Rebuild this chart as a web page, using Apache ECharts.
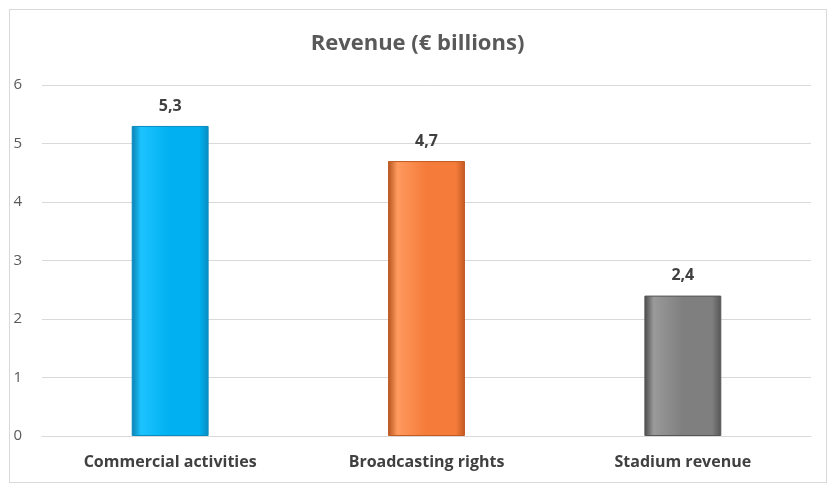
<!DOCTYPE html>
<html><head><meta charset="utf-8">
<script src="https://cdn.jsdelivr.net/npm/echarts@6/dist/echarts.min.js"></script>
<style>
html,body{margin:0;padding:0;background:#fff;}
#box{position:absolute;left:9px;top:9px;width:816px;height:472px;border:1px solid #d9d9d9;}
#chart{width:835px;height:490px;}
</style></head>
<body>
<div id="box"></div>
<div id="chart"></div>
<script>
// valeurs
const categories = ['Commercial activities', 'Broadcasting rights', 'Stadium revenue'];
const values = [5.3, 4.7, 2.4];
const barColors = [
    ['#0a7fae', '#1cc3ff', '#00b0f0', '#0a8cc0'],
    ['#b3531e', '#ff9a5e', '#f47b3a', '#c25a22'],
    ['#4a4a4a', '#9a9a9a', '#7f7f7f', '#555555']
];

function bevel(c) {
    return {
        type: 'linear', x: 0, y: 0, x2: 1, y2: 0,
        colorStops: [
            { offset: 0, color: c[0] },
            { offset: 0.12, color: c[1] },
            { offset: 0.5, color: c[2] },
            { offset: 0.88, color: c[2] },
            { offset: 1, color: c[3] }
        ]
    };
}

const chart = echarts.init(document.getElementById('chart'));
const option = {
    animation: false,
    title: {
        text: 'Revenue (€ billions)',
        left: 'center',
        top: 28,
        textStyle: { fontFamily: 'Open Sans', fontSize: 22, fontWeight: 'bold', color: '#595959' }
    },
    grid: { left: 42, right: 24, top: 85, bottom: 54 },
    xAxis: {
        type: 'category',
        data: categories,
        axisLine: { lineStyle: { color: '#d9d9d9' } },
        axisTick: { show: false },
        axisLabel: { fontFamily: 'Open Sans', fontSize: 16, fontWeight: 'bold', color: '#404040', margin: 18 }
    },
    yAxis: {
        type: 'value',
        min: 0, max: 6, interval: 1,
        axisLabel: { fontFamily: 'Open Sans', fontSize: 15, color: '#595959', margin: 20 },
        splitLine: { lineStyle: { color: '#d9d9d9' } }
    },
    series: [{
        type: 'bar',
        barWidth: '30%',
        data: values.map((v, i) => ({
            value: v,
            itemStyle: { color: bevel(barColors[i]), borderColor: barColors[i][3], borderWidth: 1 }
        })),
        label: {
            show: true, position: 'top', distance: 12,
            fontFamily: 'Open Sans', fontSize: 16, fontWeight: 'bold', color: '#404040',
            formatter: p => String(p.value).replace('.', ',')
        }
    }]
};
chart.setOption(option);
</script>
</body></html>
